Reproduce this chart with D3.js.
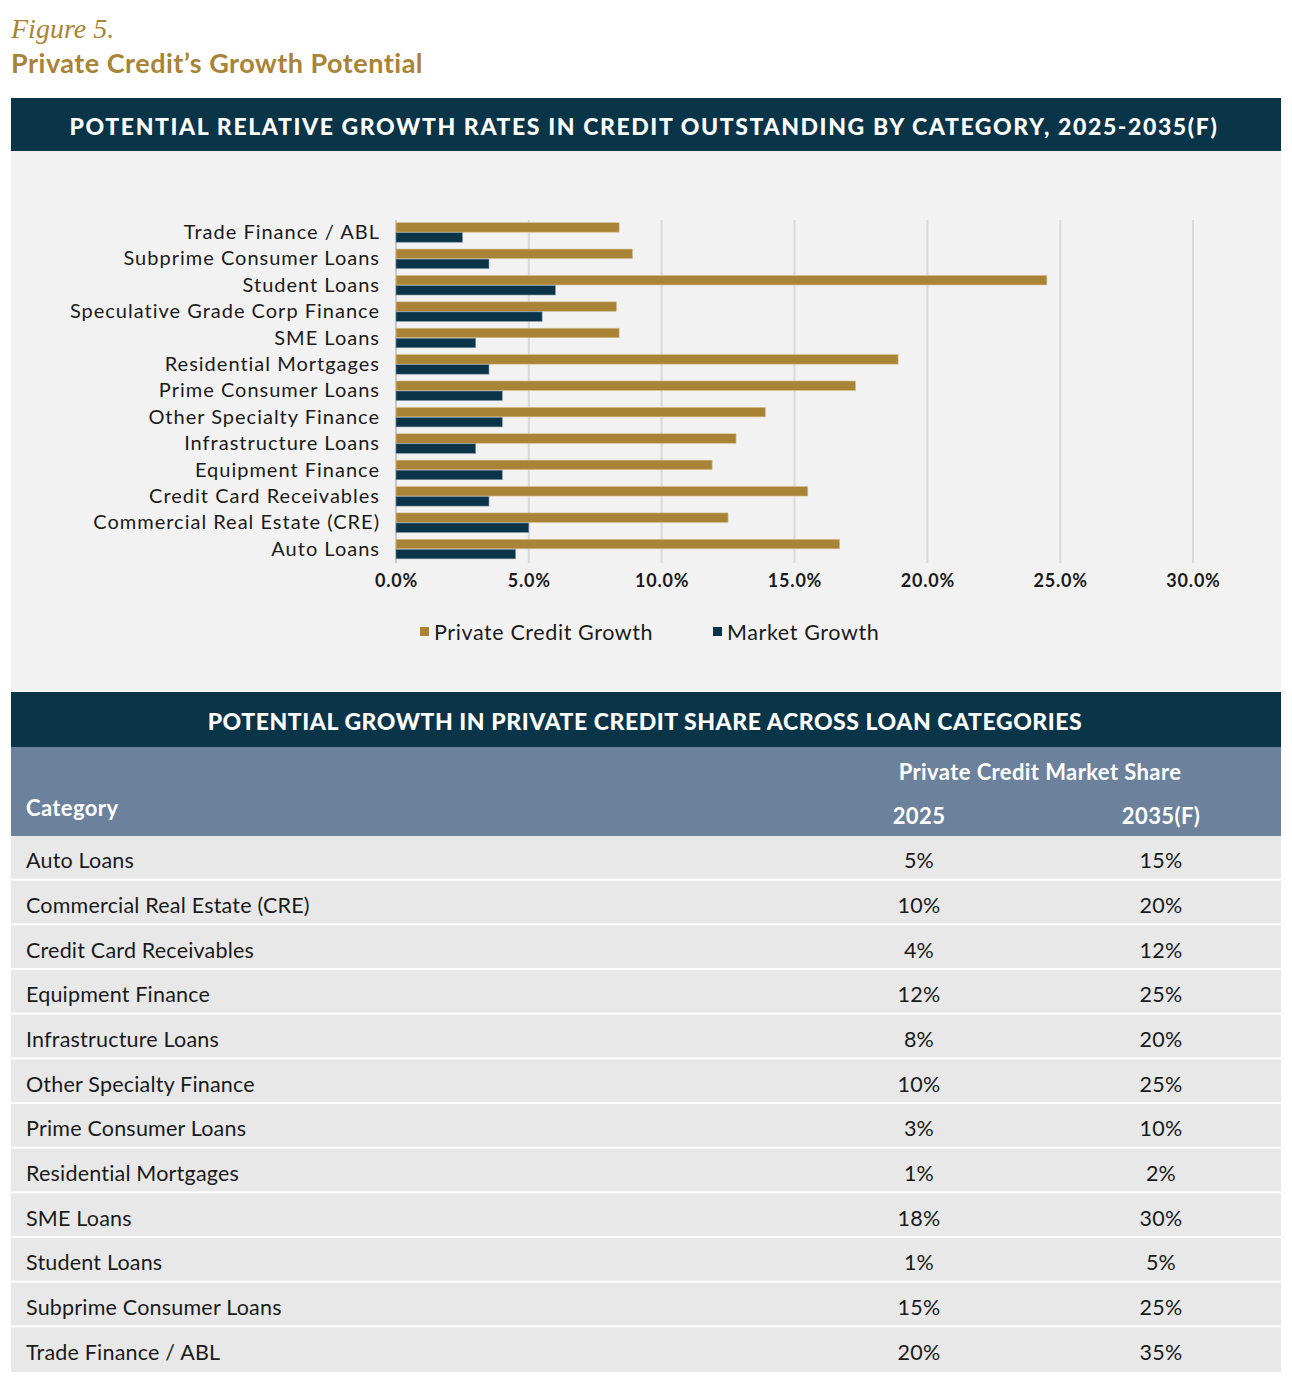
<!DOCTYPE html>
<html>
<head>
<meta charset="utf-8">
<script src="https://cdn.jsdelivr.net/npm/d3@7"></script>
<style>
  body { margin: 0; background: #ffffff; }
  svg text { font-family: Lato, "Open Sans", sans-serif; }
</style>
</head>
<body>
<div id="viz-container"></div>
<script>
// chart data, top to bottom as drawn
let categories = ["Trade Finance / ABL", "Subprime Consumer Loans", "Student Loans",
  "Speculative Grade Corp Finance", "SME Loans", "Residential Mortgages",
  "Prime Consumer Loans", "Other Specialty Finance", "Infrastructure Loans",
  "Equipment Finance", "Credit Card Receivables", "Commercial Real Estate (CRE)", "Auto Loans"];
let privateGrowth = [8.4, 8.9, 24.5, 8.3, 8.4, 18.9, 17.3, 13.9, 12.8, 11.9, 15.5, 12.5, 16.7];
let marketGrowth  = [2.5, 3.5, 6.0, 5.5, 3.0, 3.5, 4.0, 4.0, 3.0, 4.0, 3.5, 5.0, 4.5];
let xTicks = [0, 5, 10, 15, 20, 25, 30];
let seriesNames = ["Private Credit Growth", "Market Growth"];

// table data
let tableCategories = ["Auto Loans", "Commercial Real Estate (CRE)", "Credit Card Receivables",
  "Equipment Finance", "Infrastructure Loans", "Other Specialty Finance", "Prime Consumer Loans",
  "Residential Mortgages", "SME Loans", "Student Loans", "Subprime Consumer Loans", "Trade Finance / ABL"];
let share2025 = ["5%", "10%", "4%", "12%", "8%", "10%", "3%", "1%", "18%", "1%", "15%", "20%"];
let share2035 = ["15%", "20%", "12%", "25%", "20%", "25%", "10%", "2%", "30%", "5%", "25%", "35%"];

let gold = "#a98336";
let navy = "#0b3448";

let viz = d3.select("#viz-container")
  .append("svg")
    .attr("width", 1292)
    .attr("height", 1387);

// figure title
viz.append("text")
  .attr("x", 11).attr("y", 38)
  .attr("fill", gold)
  .style("font-family", "'Liberation Serif', serif")
  .style("font-style", "italic")
  .style("font-size", "28px")
  .text("Figure 5.");

viz.append("text")
  .attr("x", 11).attr("y", 73)
  .attr("fill", gold)
  .style("font-size", "27px")
  .style("font-weight", "bold")
  .style("letter-spacing", "0.5px")
  .text("Private Credit\u2019s Growth Potential");

// ---- chart panel ----
viz.append("rect").attr("x", 11).attr("y", 151).attr("width", 1270).attr("height", 540).attr("fill", "#f2f2f2");
viz.append("rect").attr("x", 11).attr("y", 98).attr("width", 1270).attr("height", 53).attr("fill", "#0a3448");
viz.append("text")
  .attr("x", 644).attr("y", 126)
  .attr("text-anchor", "middle")
  .attr("dominant-baseline", "central")
  .attr("fill", "white")
  .style("font-size", "23px")
  .style("font-weight", "900")
  .style("letter-spacing", "1.6px")
  .text("POTENTIAL RELATIVE GROWTH RATES IN CREDIT OUTSTANDING BY CATEGORY, 2025-2035(F)");

let x = d3.scaleLinear().domain([0, 30]).range([396, 1193]);
let y = d3.scaleBand().domain(categories).range([219.5, 562.5]).paddingInner(0.24).paddingOuter(0.12);
let ySub = d3.scaleBand().domain(seriesNames).range([0, y.bandwidth()]);

let plot = viz.append("g");

// gridlines
plot.selectAll(".grid").data(xTicks).enter().append("line")
  .attr("class", "grid")
  .attr("x1", d => x(d)).attr("x2", d => x(d))
  .attr("y1", 220).attr("y2", 563)
  .attr("stroke", d => d == 0 ? "#c8c8c8" : "#d9d9d9")
  .attr("stroke-width", 2);

let groups = plot.selectAll(".cat").data(categories).enter().append("g")
  .attr("class", "cat")
  .attr("transform", d => "translate(0," + y(d) + ")");

groups.append("rect")
  .attr("x", x(0))
  .attr("y", ySub(seriesNames[0]))
  .attr("width", (d, i) => x(privateGrowth[i]) - x(0))
  .attr("height", ySub.bandwidth() - 0.5)
  .attr("fill", gold)
  .attr("stroke", "#d8c193").attr("stroke-width", 0.6);

groups.append("rect")
  .attr("x", x(0))
  .attr("y", ySub(seriesNames[1]))
  .attr("width", (d, i) => x(marketGrowth[i]) - x(0))
  .attr("height", ySub.bandwidth() - 0.5)
  .attr("fill", navy)
  .attr("stroke", "#7f95a3").attr("stroke-width", 0.6);

// category labels
let yAxis = d3.axisLeft(y).tickSize(0).tickPadding(0);
let yG = viz.append("g").attr("transform", "translate(380,0)").call(yAxis);
yG.select(".domain").remove();
yG.selectAll("text")
  .attr("fill", "#1a1a1a")
  .style("font-size", "20px")
  .style("letter-spacing", "1px");

// x axis
let xAxis = d3.axisBottom(x).tickValues(xTicks).tickSize(0).tickPadding(0)
  .tickFormat(d => d3.format(".1f")(d) + "%");
let xG = viz.append("g").attr("transform", "translate(0,574)").call(xAxis);
xG.select(".domain").remove();
xG.selectAll("text")
  .attr("fill", "#1a1a1a")
  .style("font-size", "18px")
  .style("font-weight", "bold")
  .style("letter-spacing", "0.8px");

// legend
let legendX = [420, 713];
let legend = viz.selectAll(".legend").data(seriesNames).enter().append("g")
  .attr("class", "legend")
  .attr("transform", (d, i) => "translate(" + legendX[i] + ",627)");
legend.append("rect").attr("width", 9).attr("height", 9)
  .attr("fill", (d, i) => i == 0 ? gold : navy);
legend.append("text")
  .attr("x", 14).attr("y", 5)
  .attr("dominant-baseline", "central")
  .attr("fill", "#1a1a1a")
  .style("font-size", "21.5px")
  .style("letter-spacing", "0.6px")
  .text(d => d);

// ---- table ----
viz.append("rect").attr("x", 11).attr("y", 692).attr("width", 1270).attr("height", 55).attr("fill", "#0a3448");
viz.append("text")
  .attr("x", 645).attr("y", 721)
  .attr("text-anchor", "middle")
  .attr("dominant-baseline", "central")
  .attr("fill", "white")
  .style("font-size", "23px")
  .style("font-weight", "900")
  .style("letter-spacing", "0.55px")
  .text("POTENTIAL GROWTH IN PRIVATE CREDIT SHARE ACROSS LOAN CATEGORIES");

viz.append("rect").attr("x", 11).attr("y", 747).attr("width", 1270).attr("height", 89).attr("fill", "#6c829c");

let headText = viz.append("g")
  .attr("fill", "white")
  .style("font-size", "22px")
  .style("font-weight", "bold")
  .style("letter-spacing", "0.4px");
headText.append("text").attr("x", 26).attr("y", 807).attr("dominant-baseline", "central").text("Category");
headText.append("text").attr("x", 1040).attr("y", 771).attr("text-anchor", "middle").attr("dominant-baseline", "central").text("Private Credit Market Share");
headText.append("text").attr("x", 919).attr("y", 815).attr("text-anchor", "middle").attr("dominant-baseline", "central").text("2025");
headText.append("text").attr("x", 1161).attr("y", 815).attr("text-anchor", "middle").attr("dominant-baseline", "central").text("2035(F)");

let rowY = d3.scaleBand().domain(tableCategories).range([836, 1372]);

let rows = viz.selectAll(".row").data(tableCategories).enter().append("g")
  .attr("class", "row")
  .attr("transform", d => "translate(0," + rowY(d) + ")");

rows.append("rect")
  .attr("x", 11).attr("width", 1270)
  .attr("height", (d, i) => i == tableCategories.length - 1 ? rowY.bandwidth() : rowY.bandwidth() - 2)
  .attr("fill", "#e8e8e8");

let cellText = rows.append("g")
  .attr("fill", "#1a1a1a")
  .style("font-size", "21.5px")
  .style("letter-spacing", "0.2px");

cellText.append("text")
  .attr("x", 26).attr("y", rowY.bandwidth() / 2 + 2)
  .attr("dominant-baseline", "central")
  .text(d => d);

cellText.append("text")
  .attr("x", 919).attr("y", rowY.bandwidth() / 2 + 2)
  .attr("text-anchor", "middle")
  .attr("dominant-baseline", "central")
  .text((d, i) => share2025[i]);

cellText.append("text")
  .attr("x", 1161).attr("y", rowY.bandwidth() / 2 + 2)
  .attr("text-anchor", "middle")
  .attr("dominant-baseline", "central")
  .text((d, i) => share2035[i]);
</script>
</body>
</html>
